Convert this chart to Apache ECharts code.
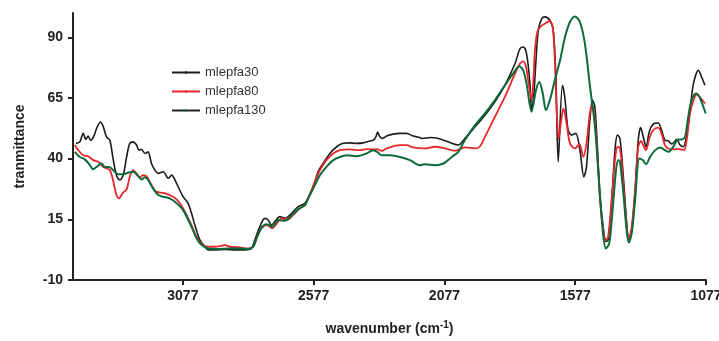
<!DOCTYPE html>
<html><head><meta charset="utf-8">
<script src="https://cdn.jsdelivr.net/npm/echarts@6/dist/echarts.min.js"></script>
<style>html,body{margin:0;padding:0;background:#fff}#c{width:719px;height:341px}</style>
</head><body><div id="c"></div>
<script>
var seriesNames = ['mlepfa30','mlepfa80','mlepfa130'];
var xTicks = [1077,1577,2077,2577,3077];
var yTicks = [-10,15,40,65,90];

var wn30 = [3486,3471,3458,3448,3439,3430,3417,3407,3392,3382,3369,3356,3344,3331,3318,3305,3292,3280,3267,3254,3245,3235,3222,3210,3197,3184,3171,3152,3133,3120,3101,3076,3057,3044,3031,3012,2993,2980,2955,2916,2878,2840,2815,2802,2783,2764,2751,2738,2726,2706,2687,2661,2636,2610,2579,2560,2541,2515,2489,2464,2438,2413,2388,2362,2349,2339,2332,2324,2313,2298,2273,2247,2222,2197,2171,2164,2126,2088,2049,2024,1999,1960,1922,1884,1846,1807,1788,1775,1763,1750,1744,1735,1727,1718,1705,1693,1674,1661,1651,1642,1626,1617,1604,1591,1575,1559,1544,1534,1521,1511,1502,1493,1483,1470,1460,1451,1438,1425,1416,1406,1393,1380,1372,1361,1348,1336,1327,1317,1306,1294,1279,1260,1247,1234,1221,1208,1189,1176,1164,1151,1138,1125,1106,1094,1081];
var t30 = [46.3,46.9,50.4,47.9,49.3,47.6,49.3,52.4,55.1,53.4,49.0,47.6,40.1,33.2,31.2,33.2,40.7,46.3,46.9,45.6,43.5,43.8,42.1,42.8,38.0,35.3,33.9,34.6,31.9,33.2,29.8,24.3,21.6,17.5,12.6,6.5,3.7,2.4,2.4,2.6,2.4,2.4,3.0,6.5,11.9,15.4,14.7,12.6,14.0,16.1,15.4,17.5,20.2,21.6,28.4,34.6,38.0,42.1,44.9,46.3,46.5,46.3,46.5,47.3,47.6,49.0,51.0,49.0,48.3,49.3,50.1,50.4,50.4,49.3,48.7,48.3,48.7,47.9,46.3,45.6,48.3,53.1,57.9,63.4,70.2,79.2,85.3,86.0,83.3,71.0,60.0,66.8,80.5,92.9,97.7,98.4,97.0,92.9,73.7,38.7,70.2,65.4,51.7,49.7,50.4,43.5,32.5,36.6,55.8,64.1,61.3,46.3,25.7,11.9,5.8,6.5,21.6,43.5,49.7,48.4,32.5,13.3,6.5,10.6,27.0,47.6,52.8,49.0,44.9,51.0,54.2,54.7,51.7,47.6,47.3,46.0,47.9,45.6,44.9,49.7,60.0,70.9,76.4,73.7,70.2];

var wn80 = [3490,3477,3458,3439,3420,3401,3382,3369,3356,3344,3331,3321,3308,3292,3280,3267,3254,3241,3229,3214,3197,3178,3152,3127,3101,3076,3044,3025,3005,2980,2955,2929,2916,2897,2865,2827,2808,2795,2776,2756,2735,2718,2699,2680,2655,2630,2610,2598,2572,2553,2528,2502,2477,2438,2400,2375,2356,2336,2317,2298,2273,2247,2222,2197,2171,2152,2113,2075,2037,1999,1960,1941,1922,1884,1846,1807,1788,1776,1765,1754,1744,1737,1731,1722,1712,1693,1674,1663,1655,1648,1640,1632,1622,1610,1597,1578,1561,1546,1534,1521,1513,1506,1495,1483,1470,1460,1451,1438,1425,1415,1406,1393,1380,1372,1361,1348,1336,1325,1317,1306,1294,1279,1260,1247,1234,1221,1202,1183,1161,1151,1138,1125,1112,1100,1081];
var t80 = [45.6,43.5,41.4,41.0,39.4,38.7,36.6,36.0,35.3,31.2,25.0,23.6,25.7,27.3,32.5,35.3,33.9,32.3,33.2,32.5,29.1,26.3,25.9,25.0,23.2,19.5,12.6,7.8,4.8,3.7,3.7,4.1,4.4,3.7,3.5,3.0,3.7,7.2,11.3,12.6,11.3,13.3,15.4,14.7,16.8,19.5,20.9,23.6,30.5,35.3,39.4,42.1,43.5,43.8,43.5,43.9,43.8,43.9,43.2,44.2,45.1,45.6,45.6,44.6,44.3,44.2,44.9,44.2,43.2,44.6,44.2,45.1,49.0,57.2,65.4,75.1,79.2,80.1,77.8,70.2,64.1,72.3,84.7,92.1,94.2,95.6,96.7,94.2,80.9,60.0,48.3,54.5,60.7,54.5,46.3,44.2,46.0,40.7,46.3,58.6,62.0,60.0,46.3,24.3,10.6,6.5,7.8,22.9,39.4,44.9,44.3,29.8,11.9,7.2,11.9,27.0,44.9,47.3,45.6,43.5,48.3,51.7,52.8,50.4,45.6,44.2,43.8,44.0,43.5,47.6,58.6,64.1,66.5,65.4,62.7];

var wn130 = [3490,3471,3452,3432,3420,3407,3388,3375,3359,3344,3325,3305,3286,3267,3248,3235,3222,3210,3191,3171,3152,3127,3101,3076,3044,3025,3005,2980,2942,2903,2865,2827,2808,2795,2776,2756,2735,2712,2687,2661,2636,2610,2598,2572,2553,2528,2502,2477,2451,2413,2375,2349,2334,2317,2285,2247,2209,2171,2152,2113,2081,2049,2024,1999,1960,1922,1884,1846,1814,1791,1776,1763,1744,1727,1714,1701,1689,1674,1655,1635,1616,1597,1578,1559,1540,1521,1502,1489,1472,1460,1447,1434,1421,1412,1406,1393,1380,1372,1361,1348,1332,1319,1306,1291,1271,1252,1234,1221,1202,1183,1170,1157,1145,1132,1115,1102,1087,1078];
var t130 = [42.8,40.7,39.7,37.3,35.6,36.6,38.0,36.6,36.6,35.3,33.6,33.6,34.2,34.6,32.8,31.4,32.3,31.2,27.7,25.0,24.3,23.6,21.6,18.8,11.9,7.2,4.4,3.0,2.8,3.0,3.0,2.8,3.7,7.2,11.7,13.0,11.9,14.7,14.4,16.8,19.1,20.9,23.6,29.1,33.2,36.6,39.4,40.7,41.4,41.0,42.1,43.5,42.8,41.4,41.4,40.7,39.4,37.3,37.7,37.3,38.0,40.7,42.8,47.6,53.8,58.6,64.1,70.2,75.1,78.1,76.4,70.9,59.3,68.2,71.6,66.8,60.0,64.1,72.3,80.5,90.1,96.3,98.6,96.3,87.4,70.2,53.8,35.3,10.6,3.0,5.1,18.8,35.3,39.4,38.7,25.7,9.9,5.4,9.2,22.9,40.1,39.4,37.7,40.7,43.5,44.6,43.5,42.8,44.9,47.9,47.9,49.0,57.2,64.1,66.8,65.4,61.3,58.6];

function pairs(xs, ys){ return xs.map(function(x,i){ return [x, ys[i]]; }); }

var colors = ['#1c1c1c','#e8262b','#0b6b3b'];
var chart = echarts.init(document.getElementById('c'), null, {renderer:'canvas'});
var ff = 'Liberation Sans, Arial, sans-serif';
var lblFont = {fontFamily:ff, fontWeight:'bold', fontSize:14, color:'#222'};
chart.setOption({
  animation:false,
  backgroundColor:'#fff',
  grid:{left:73, right:13, top:13, bottom:61, containLabel:false, outerBoundsMode:'none'},
  legend:{
    orient:'vertical', left:171, top:66, padding:0, itemGap:6, itemWidth:28, itemHeight:3,
    textStyle:{fontFamily:ff, fontSize:13, color:'#333'},
    data:[
      {name:seriesNames[0]},
      {name:seriesNames[1]},
      {name:seriesNames[2], lineStyle:{color:'#222'}}
    ]
  },
  xAxis:{
    type:'value', inverse:true, min:1077, max:3497,
    axisLine:{show:true, onZero:false, lineStyle:{color:'#222', width:2}},
    axisTick:{show:true, length:5, lineStyle:{color:'#222', width:2}, customValues:xTicks},
    axisLabel:Object.assign({margin:9, customValues:xTicks, formatter:function(v){return String(v);}}, lblFont),
    splitLine:{show:false},
    name:'{a|wavenumber (cm}{s|-1}{a|)}', nameLocation:'middle', nameGap:40,
    nameTextStyle:{rich:{
      a:{fontFamily:ff, fontWeight:'bold', fontSize:14, color:'#222'},
      s:{fontFamily:ff, fontWeight:'bold', fontSize:10, color:'#222', verticalAlign:'top', padding:[0,0,8,0]}
    }}
  },
  yAxis:{
    type:'value', min:-10, max:100,
    axisLine:{show:true, onZero:false, lineStyle:{color:'#222', width:2}},
    axisTick:{show:true, length:5, lineStyle:{color:'#222', width:2}, customValues:yTicks},
    axisLabel:Object.assign({margin:10, customValues:yTicks}, lblFont),
    splitLine:{show:false},
    name:'tranmittance', nameLocation:'middle', nameGap:46,
    nameTextStyle:lblFont
  },
  series:[
    {name:seriesNames[0], type:'line', data:pairs(wn30,t30), showSymbol:false, symbol:'circle', symbolSize:3, smooth:0.3, color:colors[0], lineStyle:{width:1.6}},
    {name:seriesNames[1], type:'line', data:pairs(wn80,t80), showSymbol:false, symbol:'circle', symbolSize:3, smooth:0.3, color:colors[1], lineStyle:{width:1.8}},
    {name:seriesNames[2], type:'line', data:pairs(wn130,t130), showSymbol:false, symbol:'circle', symbolSize:3, smooth:0.3, color:colors[2], lineStyle:{width:2}}
  ]
});
</script></body></html>
